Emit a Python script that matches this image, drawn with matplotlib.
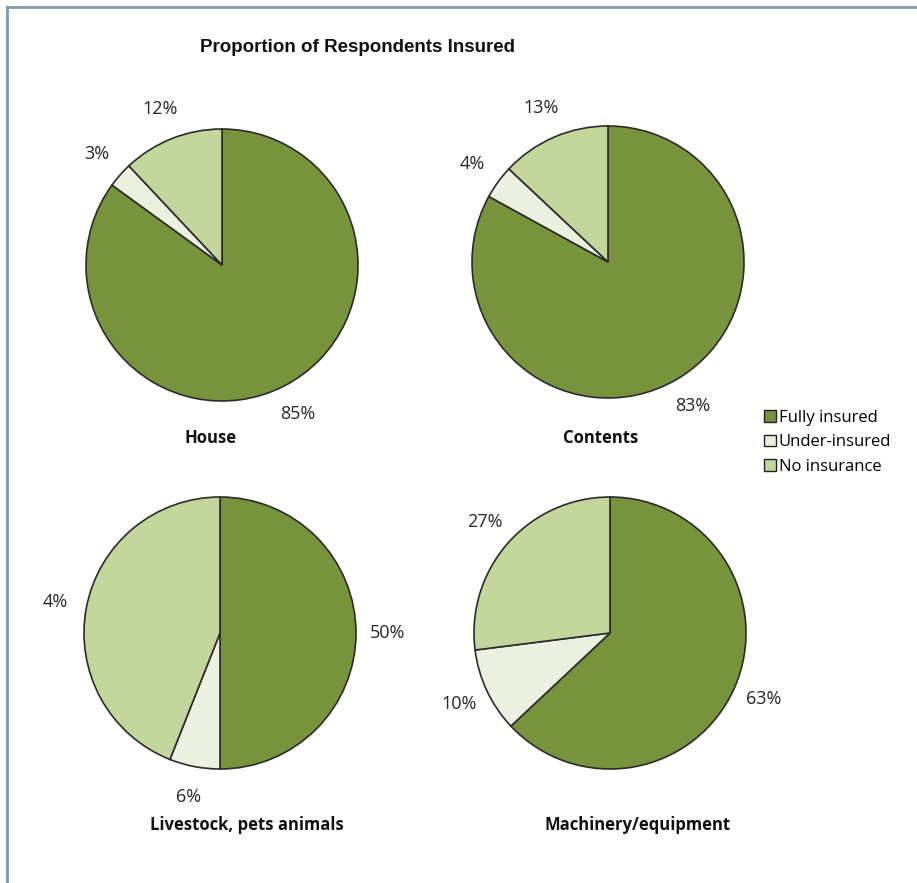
import matplotlib
matplotlib.use("Agg")
import matplotlib.pyplot as plt
import matplotlib.patches as mpatches
from matplotlib.lines import Line2D

# ---------------------------
# Survey data
# ---------------------------
categories = ["Fully insured", "Under-insured", "No insurance"]
colours = ["#77933C", "#EBF1DE", "#C3D69B"]

house = [85, 3, 12]
contents = [83, 4, 13]
livestock = [50, 6, 44]
machinery = [63, 10, 27]

house_labels = ["85%", "3%", "12%"]
contents_labels = ["83%", "4%", "13%"]
livestock_labels = ["50%", "6%", "4%"]
machinery_labels = ["63%", "10%", "27%"]

pie_titles = ["House", "Contents", "Livestock, pets animals", "Machinery/equipment"]

W, H = 917, 883

# ---------------------------
# Figure: one axes in pixel units (y measured up)
# ---------------------------
fig = plt.figure(figsize=(W / 100, H / 100), dpi=100)
ax = fig.add_axes([0, 0, 1, 1])

pies = [
    (house, house_labels, (222, 265), (211, 438)),
    (contents, contents_labels, (608, 262), (601, 438)),
    (livestock, livestock_labels, (220, 633), (247, 825)),
    (machinery, machinery_labels, (610, 633), (638, 825)),
]

radius = 136
for (values, labels, (cx, cy), (tx, ty)), title in zip(pies, pie_titles):
    wedges, texts = ax.pie(
        values, labels=labels, colors=colours, startangle=90, counterclock=False,
        center=(cx, H - cy), radius=radius, labeldistance=1.23,
        wedgeprops=dict(edgecolor="#2b2b2b", linewidth=1.2),
        textprops=dict(fontsize=13, color="#262626", family="Open Sans"),
    )
    for t in texts:
        t.set_ha("center")
        t.set_va("center")
    ax.text(tx, H - ty, title, ha="center", va="center", fontsize=12,
            fontweight="bold", family="Open Sans", color="#111111")

ax.set_xlim(0, W)
ax.set_ylim(0, H)
ax.set_aspect("auto")
ax.axis("off")

ax.text(358, H - 47, "Proportion of Respondents Insured", ha="center", va="center",
        fontsize=13.5, fontweight="bold", family="Liberation Sans", color="#111111")

# frame lines along top and left edges
frame = "#7F9BB5"
fig.add_artist(Line2D([7 / W, 1], [1 - 7 / H, 1 - 7 / H], transform=fig.transFigure,
                      color=frame, linewidth=2))
fig.add_artist(Line2D([7 / W, 7 / W], [0, 1 - 7 / H], transform=fig.transFigure,
                      color=frame, linewidth=2))

# ---------------------------
# Legend
# ---------------------------
handles = [mpatches.Patch(facecolor=c, edgecolor="#222222", linewidth=1, label=l)
           for c, l in zip(colours, categories)]
fig.legend(handles=handles, loc="upper left", bbox_to_anchor=(764 / W, 1 - 410 / H),
           frameon=False, handlelength=0.7, handleheight=0.7, handletextpad=0.2,
           labelspacing=0.5, borderaxespad=0, borderpad=0,
           prop=dict(family="Open Sans", size=12))

fig.savefig("out.png", dpi=100)
